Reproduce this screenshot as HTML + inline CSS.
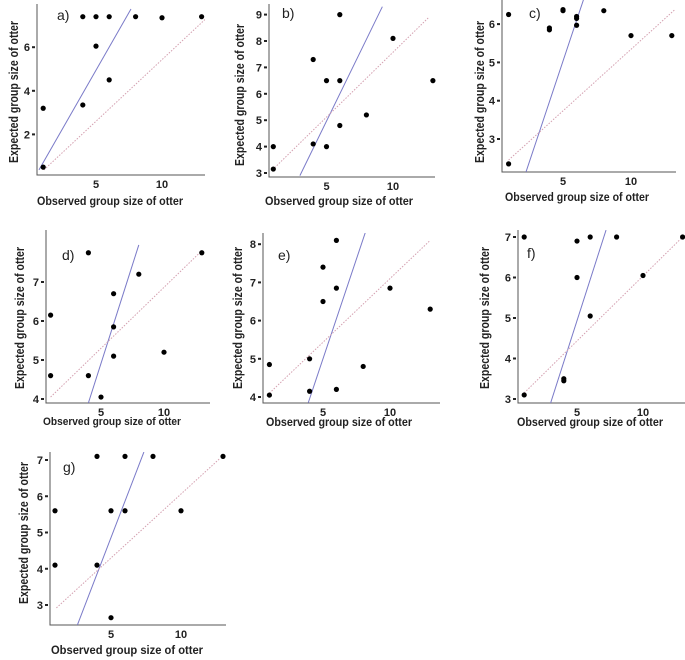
<!DOCTYPE html>
<html><head><meta charset="utf-8"><style>
html,body{margin:0;padding:0;background:#fff;}
svg{display:block;font-family:"Liberation Sans",sans-serif;}
</style></head><body>
<svg id="fig" width="685" height="660"></svg>
<script>
// data per panel
const panelLabels = ["a)","b)","c)","d)","e)","f)","g)"];
const obsA = [1,1,4,4,5,5,6,6,8,10,13];
const expA = [0.5,3.2,3.35,7.4,7.4,6.05,7.4,4.5,7.4,7.35,7.4];
const obsB = [1,1,4,4,5,5,6,6,6,8,10,13];
const expB = [4,3.15,7.3,4.1,6.5,4,9,6.5,4.8,5.2,8.1,6.5];
const obsC = [1,1,4,4,5,5,6,6,6,8,10,13];
const expC = [6.25,2.35,5.9,5.85,6.35,6.38,6.2,6.15,5.97,6.35,5.7,5.7];
const obsD = [4,1,1,4,5,6,6,6,8,10,13];
const expD = [7.75,6.15,4.6,4.6,4.05,6.7,5.85,5.1,7.2,5.2,7.75];
const obsE = [1,1,4,4,5,5,6,6,6,8,10,13];
const expE = [4.85,4.05,5,4.15,7.4,6.5,8.1,6.85,4.2,4.8,6.85,6.3];
const obsF = [1,1,4,4,5,5,6,6,8,10,13];
const expF = [7,3.1,3.5,3.45,6.9,6,7,5.05,7,6.05,7];
const obsG = [1,1,4,4,5,5,6,6,8,10,13];
const expG = [5.6,4.1,7.1,4.1,5.6,2.65,7.1,5.6,7.1,5.6,7.1];
const xTicks = [5,10];
const yTicksA = [2,4,6], yTicksB=[3,4,5,6,7,8,9], yTicksC=[3,4,5,6], yTicksD=[4,5,6,7], yTicksE=[4,5,6,7,8], yTicksF=[3,4,5,6,7], yTicksG=[3,4,5,6,7];
// regression (blue solid) and identity-like (dotted) endpoints in data units [x1,y1,x2,y2]
const solidLines = [[0.68,0.37,7.65,7.75],[3.0,2.9,9.2,9.3],[2.28,2.14,6.5,6.63],[4.0,3.9,8.0,7.95],[3.9,3.85,8.2,8.35],[3.0,2.9,7.2,7.17],[2.6,2.45,7.35,7.22]];
const dottedLines = [[1.05,0.37,13.4,7.35],[1.1,3.2,12.7,8.9],[1.0,2.45,13.2,6.37],[1.0,4.05,12.9,7.77],[1.0,4.1,13,8.1],[1.0,3.15,13.0,7.0],[1.1,2.92,12.8,7.05]];
const panelObs=[obsA,obsB,obsC,obsD,obsE,obsF,obsG];
const panelExp=[expA,expB,expC,expD,expE,expF,expG];
const panelYTicks=[yTicksA,yTicksB,yTicksC,yTicksD,yTicksE,yTicksF,yTicksG];

// layout (pixels): x-scale: x0 px & px/unit ; y-scale: ref value, ref px, px/unit; frame
const layout = [
 {x0:30,xs:13.2,yv:0,yp:178,ys:21.8,L:37,R:205,T:4,B:175,lab:[57,20],xt:[110,205,146],yt:[14,92,142],tf:12},
 {x0:260,xs:13.3,yv:3,yp:173,ys:26.4,L:269,R:435,T:4,B:177,lab:[282,18],xt:[339,205,148],yt:[240,95,142],tf:12},
 {x0:495,xs:13.6,yv:3,yp:139,ys:38.3,L:502,R:676,T:0,B:172,lab:[529,18],xt:[577,201,144],yt:[480,92,142],tf:12},
 {x0:38,xs:12.6,yv:4,yp:399,ys:39,L:46,R:210,T:230,B:403,lab:[62,260],xt:[112,425,138],yt:[20,318,142],tf:11},
 {x0:256,xs:13.4,yv:4,yp:397,ys:38.2,L:263,R:440,T:233,B:403,lab:[278,260],xt:[339,426,146],yt:[238,318,142],tf:12},
 {x0:511,xs:13.2,yv:3,yp:399,ys:40.5,L:518,R:686,T:230,B:403,lab:[527,258],xt:[590,426,146],yt:[485,318,142],tf:12},
 {x0:41,xs:14,yv:3,yp:605,ys:36.25,L:50,R:226,T:452,B:625,lab:[63,472],xt:[127,654,152],yt:[24,533,142],tf:12}
];
const NS="http://www.w3.org/2000/svg";
const svg=document.getElementById('fig');
function mk(tag,attrs,parent){const e=document.createElementNS(NS,tag);for(const k in attrs)e.setAttribute(k,attrs[k]);parent.appendChild(e);return e;}

layout.forEach((P,i)=>{
 const g=mk('g',{},svg);
 
 
 const X=v=>P.x0+v*P.xs;
 const Y=v=>P.yp-(v-P.yv)*P.ys;
 const cid='clip'+i;
 const cp=mk('clipPath',{id:cid},g);mk('rect',{x:P.L,y:P.T,width:P.R-P.L,height:P.B-P.T},cp);
 // axes
 const ax=mk('path',{d:`M${P.L} ${P.T}V${P.B}H${P.R}`,stroke:'#555',fill:'none','stroke-width':1},g);
 
 
 xTicks.forEach(t=>{
  const tx=mk('text',{x:X(t),y:P.B+13,'text-anchor':'middle','font-size':11,'font-weight':'bold',fill:'#222'},g);
  tx.textContent=t;
  
  
 });
 panelYTicks[i].forEach(t=>{
  const yy=Y(t);
  mk('rect',{x:P.L-5,y:yy-1,width:3,height:2,fill:'#222'},g);
  const ty=mk('text',{x:P.L-7,y:yy+4,'text-anchor':'end','font-size':11,'font-weight':'bold',fill:'#222'},g);
  ty.textContent=t;
  
  
 });
 const cg=mk('g',{'clip-path':`url(#${cid})`},g);
 const s=solidLines[i], d=dottedLines[i];
 const sl=mk('line',{x1:X(s[0]),y1:Y(s[1]),x2:X(s[2]),y2:Y(s[3]),stroke:'#7a7ac8','stroke-width':1},cg);
 
 
 const dl=mk('line',{x1:X(d[0]),y1:Y(d[1]),x2:X(d[2]),y2:Y(d[3]),stroke:'#d4a0b0','stroke-width':1,'stroke-dasharray':'1.5 1.5'},cg);
 
 
 panelObs[i].forEach((o,k)=>{
  const c=mk('circle',{cx:X(o),cy:Y(panelExp[i][k]),r:2.6,fill:'#000'},g);
  
  
 });
 const lb=mk('text',{x:P.lab[0],y:P.lab[1],'font-size':14,fill:'#222'},g);
 lb.textContent=panelLabels[i];
 
 
 const xt=mk('text',{x:P.xt[0],y:P.xt[1],'text-anchor':'middle','font-size':P.tf,'font-weight':'bold',fill:'#222',textLength:P.xt[2],lengthAdjust:'spacingAndGlyphs'},g);
 xt.textContent='Observed group size of otter';
 
 
 const yt=mk('text',{x:0,y:0,'text-anchor':'middle','font-size':12.5,'font-weight':'bold',fill:'#222',textLength:P.yt[2],lengthAdjust:'spacingAndGlyphs',transform:`translate(${P.yt[0]+4},${P.yt[1]}) rotate(-90)`},g);
 yt.textContent='Expected group size of otter';
 
 
});
</script>
</body></html>
